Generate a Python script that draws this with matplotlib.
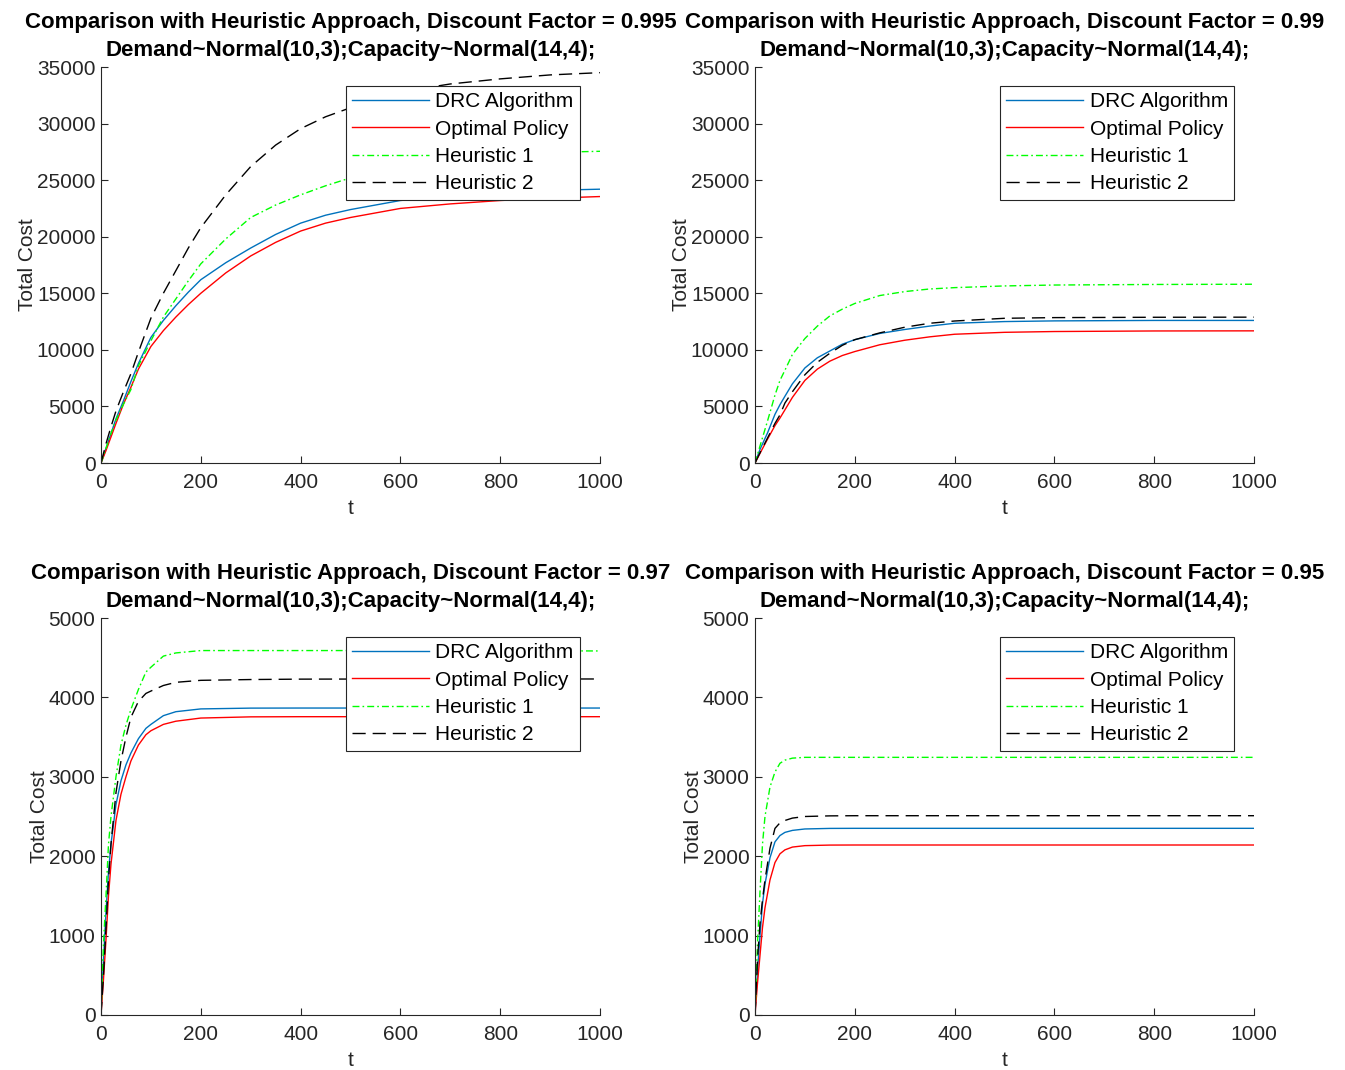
import matplotlib
matplotlib.use("Agg")
import matplotlib.pyplot as plt

plt.rcParams['font.family'] = ['Liberation Sans', 'DejaVu Sans']

# discount factors for the four panels
factors = ["0.995", "0.99", "0.97", "0.95"]
series_names = ["DRC Algorithm", "Optimal Policy", "Heuristic 1", "Heuristic 2"]

# panel 1: discount factor 0.995
t1 = [0, 10, 20, 30, 45, 60, 75, 100, 125, 150, 175, 200, 250, 300, 350, 400, 450,
      500, 600, 700, 800, 900, 1000]
drc1 = [0, 1300, 2600, 3900, 5500, 7200, 8800, 11100, 12600, 13900, 15100, 16200, 17700,
        19000, 20200, 21200, 21900, 22400, 23200, 23600, 23900, 24100, 24200]
opt1 = [0, 1100, 2300, 3500, 5200, 6700, 8300, 10300, 11700, 12900, 14000, 15000, 16800,
        18300, 19500, 20500, 21200, 21700, 22500, 22900, 23200, 23400, 23550]
h1_1 = [0, 1300, 2600, 3800, 5200, 6500, 8600, 10800, 12900, 14500, 16100, 17600, 19800,
        21700, 22800, 23700, 24500, 25200, 26200, 26800, 27200, 27450, 27550]
h2_1 = [0, 1700, 3200, 4600, 6300, 7900, 9800, 12800, 15000, 17000, 19000, 20800, 23700,
        26200, 28100, 29550, 30600, 31400, 32800, 33500, 33950, 34300, 34500]

# panel 2: discount factor 0.99
t2 = [0, 10, 25, 40, 50, 60, 75, 100, 125, 150, 175, 200, 250, 300, 350, 400, 500,
      600, 800, 1000]
drc2 = [0, 1200, 2650, 4300, 5150, 5900, 7000, 8400, 9300, 9900, 10500, 10900, 11450,
        11800, 12100, 12350, 12500, 12560, 12600, 12600]
opt2 = [0, 850, 2100, 3300, 3970, 4700, 5800, 7300, 8300, 9000, 9500, 9850, 10450,
        10850, 11150, 11380, 11550, 11620, 11670, 11680]
h1_2 = [0, 1500, 3700, 6000, 7300, 8200, 9600, 11000, 12100, 13000, 13600, 14100, 14800,
        15150, 15380, 15500, 15650, 15730, 15780, 15800]
h2_2 = [0, 900, 2200, 3500, 4250, 5300, 6300, 7800, 8900, 9700, 10400, 10900, 11500,
        12000, 12350, 12550, 12790, 12850, 12880, 12890]

# panel 3: discount factor 0.97
t3 = [0, 5, 10, 15, 20, 30, 40, 50, 60, 75, 90, 100, 125, 150, 200, 300, 400, 600, 1000]
drc3 = [0, 700, 1300, 1800, 2150, 2650, 2950, 3150, 3300, 3480, 3610, 3660, 3770, 3820,
        3855, 3865, 3866, 3866, 3866]
opt3 = [0, 450, 950, 1500, 1900, 2450, 2780, 3000, 3200, 3400, 3530, 3580, 3660, 3700,
        3740, 3755, 3757, 3757, 3757]
h1_3 = [0, 900, 1500, 2150, 2500, 3000, 3400, 3650, 3850, 4100, 4320, 4380, 4520, 4560,
        4590, 4590, 4590, 4590, 4585]
h2_3 = [0, 500, 1100, 1700, 2150, 2800, 3200, 3500, 3750, 3950, 4050, 4080, 4150, 4190,
        4215, 4225, 4230, 4232, 4232]

# panel 4: discount factor 0.95
t4 = [0, 5, 10, 15, 20, 30, 40, 50, 60, 75, 100, 150, 200, 1000]
drc4 = [0, 550, 1000, 1400, 1650, 1980, 2180, 2260, 2300, 2325, 2343, 2350, 2351, 2351]
opt4 = [0, 400, 750, 1100, 1350, 1700, 1920, 2030, 2080, 2115, 2133, 2140, 2141, 2141]
h1_4 = [0, 900, 1550, 2150, 2500, 2870, 3060, 3170, 3210, 3235, 3245, 3245, 3245, 3245]
h2_4 = [0, 700, 1150, 1450, 1700, 2100, 2350, 2420, 2450, 2480, 2500, 2508, 2510, 2510]

panels = [
    (t1, [drc1, opt1, h1_1, h2_1], 35000, 5000),
    (t2, [drc2, opt2, h1_2, h2_2], 35000, 5000),
    (t3, [drc3, opt3, h1_3, h2_3], 5000, 1000),
    (t4, [drc4, opt4, h1_4, h2_4], 5000, 1000),
]

styles = [
    dict(color=(0, 0.447, 0.741), linestyle="-"),
    dict(color=(1, 0, 0), linestyle="-"),
    dict(color=(0, 1, 0), dashes=(5, 2.2, 1.2, 2.2)),
    dict(color=(0, 0, 0), dashes=(9.5, 5)),
]

W, H = 1345, 1070
fig = plt.figure(figsize=(W / 100, H / 100), dpi=100)

# axes boxes in pixels: left, top, right, bottom
boxes = [(101, 67, 600, 463), (755, 67, 1254, 463),
         (101, 618, 600, 1015), (755, 618, 1254, 1015)]

grey = (0.15, 0.15, 0.15)

for (t, ys, ymax, ystep), box, fac in zip(panels, boxes, factors):
    l, tp, r, b = box
    ax = fig.add_axes([l / W, 1 - b / H, (r - l) / W, (b - tp) / H])
    for y, st, name in zip(ys, styles, series_names):
        ax.plot(t, y, lw=1.0, label=name, **st)
    ax.set_xlim(0, 1000)
    ax.set_ylim(0, ymax)
    ax.set_xticks(range(0, 1001, 200))
    ax.set_yticks(range(0, ymax + 1, ystep))
    ax.spines['top'].set_visible(False)
    ax.spines['right'].set_visible(False)
    for s in ['left', 'bottom']:
        ax.spines[s].set_color(grey)
        ax.spines[s].set_linewidth(0.8)
    ax.tick_params(direction='in', length=5, width=0.8, colors=grey,
                   labelsize=15, labelcolor=grey)
    ax.tick_params(axis='x', pad=7)
    ax.tick_params(axis='y', pad=4)
    ax.set_xlabel("t", fontsize=15, color=grey, labelpad=5)
    ax.set_ylabel("Total Cost", fontsize=15, color=grey, labelpad=0)
    ax.set_title("Comparison with Heuristic Approach, Discount Factor = " + fac +
                 "\nDemand~Normal(10,3);Capacity~Normal(14,4);",
                 fontsize=16, fontweight='bold', linespacing=1.45, pad=8)
    leg = ax.legend(loc='upper right', bbox_to_anchor=(1 - 20 / 499, 1 - 19 / 396),
                    borderaxespad=0, fontsize=15, handlelength=3.7, handletextpad=0.3,
                    labelspacing=0.4, borderpad=0.3, fancybox=False,
                    framealpha=1, edgecolor=grey)
    leg.get_frame().set_linewidth(0.8)

fig.savefig("out.png", dpi=100)
